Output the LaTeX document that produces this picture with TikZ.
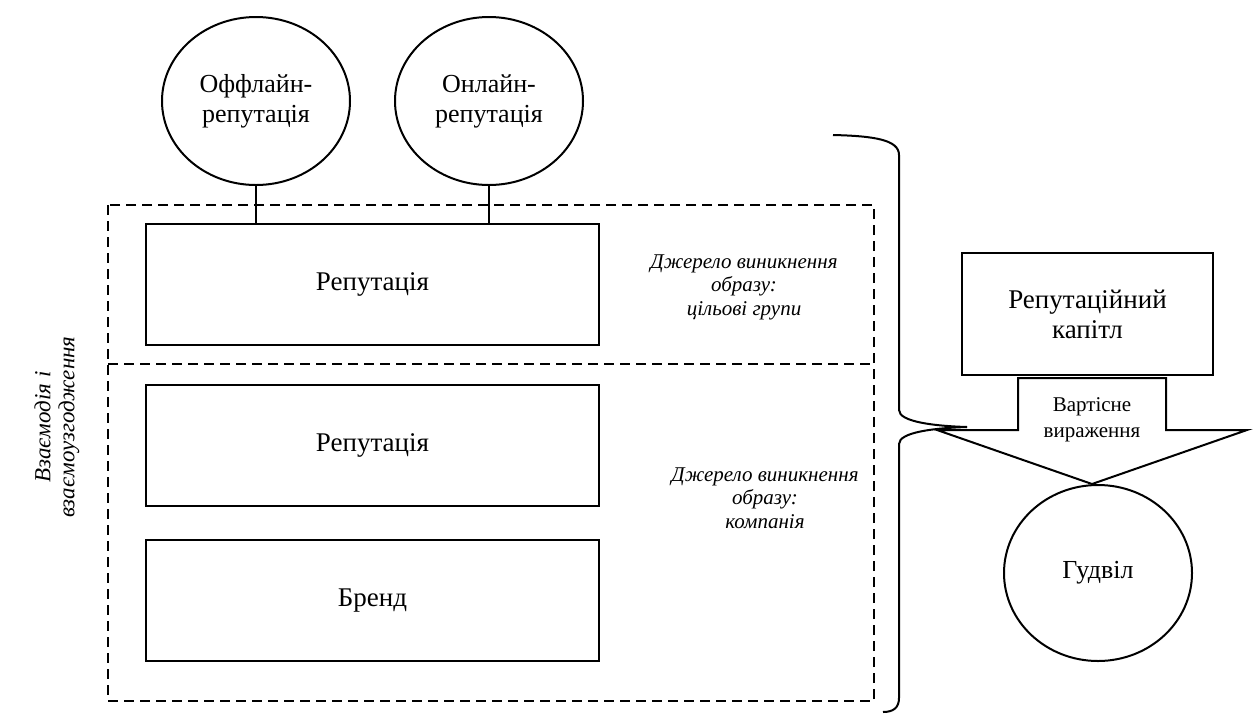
\documentclass[tikz,border=0pt]{standalone}
\usepackage{fontspec}
\setmainfont{Liberation Serif}
\usetikzlibrary{shapes.geometric}

\begin{document}
\begin{tikzpicture}[x=1pt,y=-1pt,
  ovalnode/.style={ellipse,draw,line width=2pt,inner sep=0pt,align=center,
    minimum width=188pt,minimum height=168pt,font=\fontsize{26}{30}\selectfont},
  repbox/.style={rectangle,draw,line width=2pt,align=center,
    minimum width=453pt,minimum height=121pt,font=\fontsize{27}{30}\selectfont},
  notetext/.style={align=center,font=\fontsize{21}{23.5}\selectfont\itshape},
  dashframe/.style={line width=1.5pt,dash pattern=on 10pt off 6pt}]
\useasboundingbox (0,0) rectangle (1253,713);

\node[ovalnode] (offl) at (256,101) {Оффлайн-\\репутація};
\node[ovalnode] (onl) at (489,101) {Онлайн-\\репутація};

\draw[dashframe] (108,205) rectangle (874,701);
\draw[dashframe] (108,364) -- (874,364);

\node[repbox] (rep1) at (372.5,284.5) {Репутація};
\node[repbox] (rep2) at (372.5,445.5) {Репутація};
\node[repbox] (brand) at (372.5,600.5) {Бренд};

\draw[line width=1.3pt] (offl.south) -- (offl.south |- rep1.north);
\draw[line width=1.3pt] (onl.south) -- (onl.south |- rep1.north);

\node[notetext] (src1) at (744,287) {Джерело виникнення\\образу:\\цільові групи};
\node[notetext] (src2) at (765,498) {Джерело виникнення\\образу:\\компанія};
\node[notetext,font=\fontsize{23}{24}\selectfont\itshape,rotate=90] (inter) at (57,427) {Взаємодія і\\взаємоузгодження};

% brace
\draw[line width=2pt] (833,135) .. controls (875,136) and (899,140) .. (899,155)
  -- (899,410) .. controls (899,422) and (935,426) .. (967,427);
\draw[line width=2pt] (967,427) .. controls (935,428) and (899,432) .. (899,444)
  -- (899,698) .. controls (899,708) and (893,712) .. (883,712);

\node[repbox,minimum width=251pt,minimum height=122pt] (capital) at (1087.5,314) {Репутаційний\\капітл};

% arrow
\draw[line width=2pt] (937,430) -- (1018,430) -- (1018,378) -- (1166,378)
  -- (1166,430) -- (1247,430) -- (1092,484) -- cycle;
\node[align=center,font=\fontsize{21}{26}\selectfont] (value) at (1092,420) {Вартісне\\вираження};

\node[ovalnode,minimum height=176pt] (goodwill) at (1098,573) {Гудвіл};

\end{tikzpicture}
\end{document}
